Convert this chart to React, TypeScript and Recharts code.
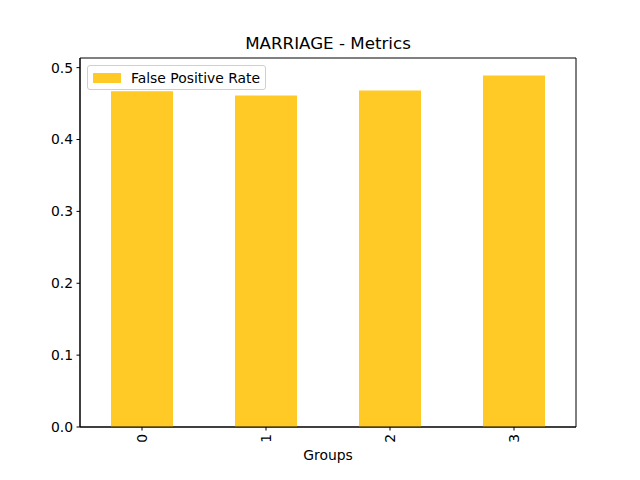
import React from 'react';
import { BarChart, Bar, XAxis, YAxis, Legend, Customized, ReferenceArea } from 'recharts';

const groups = ['0', '1', '2', '3'];
const falsePositiveRate = [0.4671, 0.4611, 0.4681, 0.4889];
const yTicks = [0, 0.1, 0.2, 0.3, 0.4, 0.5];
const Y_MAX = 0.5134;

const data = groups.map((g, i) => ({ group: g, fpr: falsePositiveRate[i] }));

const FONT = 'DejaVu Sans, sans-serif';
const BAR_COLOR = '#ffc926';

const XTick = (props: any) => {
  const { x, y, payload } = props;
  return (
    <text
      x={0}
      y={0}
      dy="0.36em"
      transform={`translate(${x},${y}) rotate(-90)`}
      textAnchor="end"
      fontFamily={FONT}
      fontSize={13.9}
      fill="#000"
    >
      {payload.value}
    </text>
  );
};

const LegendBox = () => (
  <div
    style={{
      width: 177,
      height: 23,
      border: '1px solid #d0d0d0',
      borderRadius: 3,
      background: 'rgba(255,255,255,0.8)',
      display: 'flex',
      alignItems: 'center',
      fontFamily: FONT,
      fontSize: 13.9,
      color: '#000',
      boxSizing: 'content-box',
    }}
  >
    <div style={{ width: 28, height: 10, background: BAR_COLOR, marginLeft: 5, marginRight: 10 }} />
    <span>False Positive Rate</span>
  </div>
);

const Title = () => (
  <text x={328} y={49} textAnchor="middle" fontFamily={FONT} fontSize={16.7} fill="#000">
    MARRIAGE - Metrics
  </text>
);

export default function App() {
  return (
    <div style={{ position: 'absolute', left: 0, top: 0, width: 640, height: 480, background: '#fff' }}>
      <BarChart
        width={640}
        height={480}
        data={data}
        margin={{ top: 58, right: 64, bottom: 0, left: 0 }}
        barCategoryGap={0}
      >
        <XAxis
          dataKey="group"
          height={53}
          stroke="#000"
          tickSize={3.5}
          tickMargin={3.5}
          tick={<XTick />}
          interval={0}
          label={(p: any) => {
            const vb = p.viewBox || { x: 80, y: 427, width: 496 };
            return (
              <text
                x={vb.x + vb.width / 2}
                y={vb.y + 33}
                textAnchor="middle"
                fontFamily={FONT}
                fontSize={13.9}
                fill="#000"
              >
                Groups
              </text>
            );
          }}
        />
        <YAxis
          width={80}
          domain={[0, Y_MAX]}
          ticks={yTicks}
          tickFormatter={(v: number) => v.toFixed(1)}
          stroke="#000"
          tickSize={3.5}
          tickMargin={3.5}
          tick={{ fontFamily: FONT, fontSize: 13.9, fill: '#000' }}
          allowDataOverflow
        />
        <Legend
          layout="horizontal"
          verticalAlign="middle"
          align="center"
          wrapperStyle={{ position: 'absolute', left: 87, top: 65, width: 'auto' }}
          content={<LegendBox />}
        />
        <Bar dataKey="fpr" fill={BAR_COLOR} barSize={62} isAnimationActive={false} />
        <ReferenceArea y1={0} y2={Y_MAX} fill="none" stroke="#000" strokeWidth={1} ifOverflow="visible" />
        <Customized component={<Title />} />
      </BarChart>
    </div>
  );
}
